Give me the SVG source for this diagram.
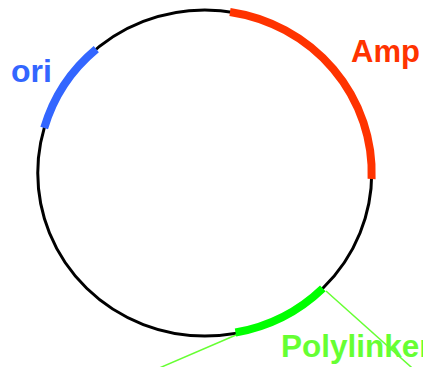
<svg xmlns="http://www.w3.org/2000/svg" width="423" height="367" viewBox="0 0 423 367">
<style>
.lbl{font-family:"Liberation Sans",Arial,Helvetica,sans-serif;font-weight:bold;font-size:31px}
.seg{fill:none;stroke-width:8;stroke-linecap:butt}
.lead{stroke:#66FF33;stroke-width:1.5;fill:none}
</style>
<rect width="423" height="367" fill="#ffffff"/>
<g id="plasmid">
<ellipse cx="204.75" cy="173" rx="167" ry="163" fill="none" stroke="#000000" stroke-width="3"/>
</g>
<g id="connectors">
<line class="lead" x1="326" y1="291" x2="420" y2="375"/>
<line class="lead" x1="236" y1="335" x2="150" y2="372"/>
</g>
<g id="amp">
<path class="seg" stroke="#FF3300" d="M 230 12 A 167 163 0 0 1 371.6 179"/>
<text class="lbl" x="351" y="62" fill="#FF3300">Amp</text>
</g>
<g id="ori">
<path class="seg" stroke="#3366FF" d="M 96.3 49.1 A 167 163 0 0 0 44.2 128"/>
<text class="lbl" x="11" y="82" fill="#3366FF" style="font-size:32px">ori</text>
</g>
<g id="polylinker">
<path class="seg" stroke="#00FF00" d="M 322.8 288.3 A 167 163 0 0 1 235.5 332.5"/>
<text class="lbl" x="281" y="357" fill="#66FF33" style="font-size:31.5px">Polylinker</text>
</g>
</svg>
